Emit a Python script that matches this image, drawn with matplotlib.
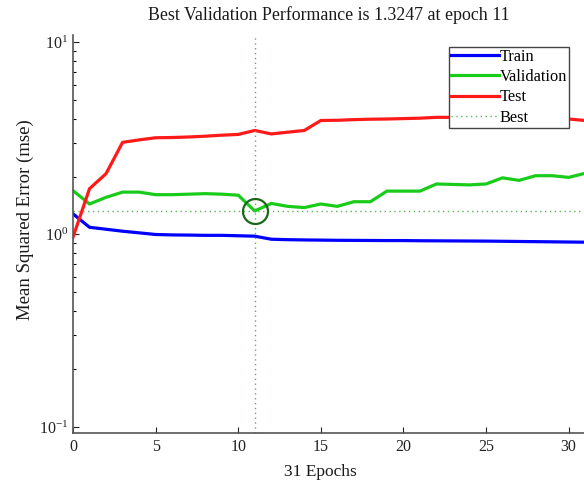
import matplotlib
matplotlib.use("Agg")
import matplotlib.pyplot as plt
import numpy as np

plt.rcParams['font.family'] = ['Liberation Serif', 'DejaVu Serif']
plt.rcParams['mathtext.fontset'] = 'stix'

epochs = list(range(0, 32))
train = [1.28, 1.09, 1.065, 1.04, 1.02, 1.00, 0.995, 0.993, 0.99, 0.99, 0.985, 0.98,
         0.945, 0.94, 0.937, 0.935, 0.933, 0.932, 0.931, 0.93, 0.93, 0.928, 0.927, 0.926,
         0.925, 0.924, 0.922, 0.92, 0.918, 0.916, 0.914, 0.912]
validation = [1.69, 1.44, 1.56, 1.66, 1.66, 1.61, 1.61, 1.62, 1.63, 1.62, 1.60, 1.3247,
              1.45, 1.40, 1.38, 1.44, 1.40, 1.48, 1.48, 1.68, 1.68, 1.68, 1.83, 1.82,
              1.81, 1.83, 1.97, 1.91, 2.02, 2.02, 1.98, 2.08]
test = [0.968, 1.73, 2.07, 3.01, 3.10, 3.18, 3.19, 3.21, 3.24, 3.28, 3.31, 3.47,
        3.33, 3.40, 3.47, 3.91, 3.92, 3.95, 3.97, 3.98, 4.00, 4.02, 4.06, 4.06,
        4.07, 4.07, 4.06, 4.05, 4.04, 4.02, 3.98, 3.91]
best_epoch = 11
best_perf = 1.3247

fig = plt.figure(figsize=(5.84, 4.86), dpi=100)
ax = fig.add_axes([73/584, 1-433/486, (584-73)/584 + 0.002, (433-35)/486])

ax.plot(epochs, train, color=(0, 0, 1), lw=2.3, label='Train')
ax.plot(epochs, validation, color=(0.1, 0.8, 0.1), lw=2.3, label='Validation')
ax.plot(epochs, test, color=(1, 0.1, 0.1), lw=2.3, label='Test')
ax.axhline(best_perf, color=(0.35, 0.7, 0.35), lw=1.0, ls=(0, (1, 2.5)), label='Best')
ax.axvline(best_epoch, color=(0.35, 0.7, 0.35), lw=1.0, ls=(0, (1, 2.5)))
ax.plot([best_epoch], [best_perf], 'o', mfc='none', mec=(0.1, 0.4, 0.1), ms=18, mew=1.6)

ax.set_yscale('log')
ax.set_xlim(0, 31)
ax.set_ylim(0.0931, 10.87)
ax.set_xticks([0, 5, 10, 15, 20, 25, 30])
ax.set_yticks([0.1, 1, 10])
ax.tick_params(direction='in', labelsize=11.5, colors='#222222', length=4, width=0.8)
ax.tick_params(which='minor', direction='in', length=2.5, width=0.8)
ax.tick_params(axis='x', pad=4)
for s in ['top', 'right']:
    ax.spines[s].set_visible(False)
for s in ['left', 'bottom']:
    ax.spines[s].set_color('#555555')
    ax.spines[s].set_linewidth(1.2)

ax.set_title('Best Validation Performance is 1.3247 at epoch 11', fontsize=12.9, pad=10.5,
             color='#1a1a1a')
ax.set_xlabel('31 Epochs', fontsize=12.5, color='#1a1a1a')
ax.xaxis.set_label_coords(15/31, (433-464)/398)
ax.set_ylabel('Mean Squared Error (mse)', fontsize=13.5, color='#1a1a1a')
ax.yaxis.set_label_coords((34-73)/511, (433-220)/398)

leg = ax.legend(loc='upper right', fontsize=11.8, handlelength=2.9, handletextpad=0.05,
                borderpad=0.12, labelspacing=0.26, borderaxespad=0, fancybox=False,
                framealpha=1)
leg.set_bbox_to_anchor((569/584, 1 - 47/486), transform=fig.transFigure)
leg.get_frame().set_edgecolor('#444444')
leg.get_frame().set_linewidth(1.0)

fig.savefig('out.png', dpi=100)
